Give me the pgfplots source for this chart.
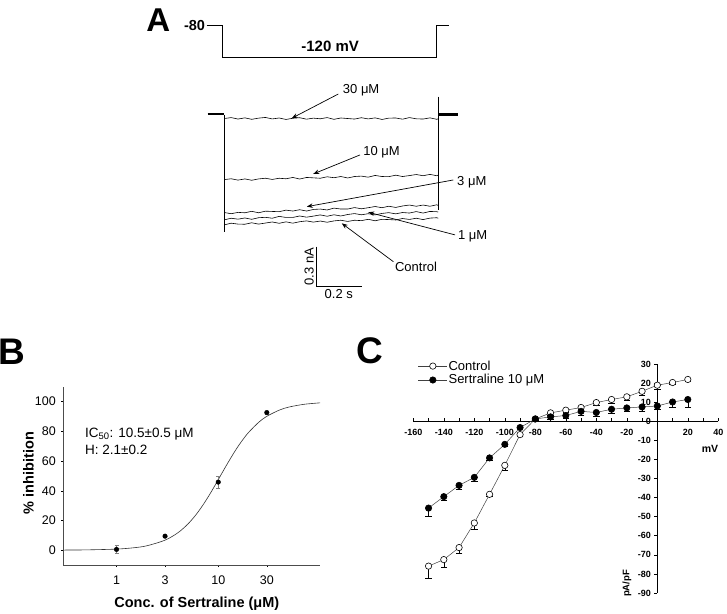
\documentclass[border=0pt]{standalone}
\usepackage{fontspec}
\setmainfont{Liberation Sans}
\usepackage{pgfplots}
\pgfplotsset{compat=1.18}
\usetikzlibrary{arrows.meta}

\begin{document}
\begin{tikzpicture}
\useasboundingbox (0,0) rectangle (727pt,613pt);

% panel letters
\node[font=\bfseries\fontsize{33}{36}\selectfont] at (158.3pt,593pt) {A};
\node[font=\bfseries\fontsize{37}{40}\selectfont] at (12.2pt,261.5pt) {B};
\node[font=\bfseries\fontsize{37}{40}\selectfont] at (370pt,262pt) {C};

% ---- A: voltage protocol
\begin{axis}[at={(201.45pt,539.5pt)}, anchor=south west, scale only axis,
  width=274.2pt, height=64.6pt, xmin=-0.1, xmax=1.1, ymin=-140, ymax=-60,
  hide axis, clip=false]
\addplot[black, line width=0.8pt] coordinates {
  (-0.077,-80) (-0.007,-80) (-0.007,-120) (0.928,-120) (0.928,-80) (0.985,-80)};
\node[anchor=east, inner sep=1.5pt, font=\bfseries\fontsize{14.5}{16}\selectfont] at (axis cs:-0.077,-80) {-80};
\node[font=\bfseries\fontsize{15}{17}\selectfont] at (axis cs:0.463,-106) {-120 mV};
\end{axis}

% ---- A: current traces (t in s, I in nA)
\begin{axis}[at={(201.45pt,312.1pt)}, anchor=south west, scale only axis,
  width=274.2pt, height=213.3pt, xmin=-0.1, xmax=1.1, ymin=-1.4, ymax=0.2,
  hide axis, clip=false]
\addplot[black, line width=2.2pt] coordinates {(-0.073,0) (0,0)};
\addplot[black, line width=2.2pt] coordinates {(0.938,-0.002) (1.024,-0.002)};
\addplot[black, line width=0.6pt] coordinates {(0,-0.005) (0,-0.881)};
\addplot[black, line width=0.6pt] coordinates {(0.9365,0.132) (0.9365,-0.72)};
% 30 uM
\addplot[black, line width=0.6pt] coordinates {
(0,-0.032) (0.03,-0.025) (0.06,-0.036) (0.09,-0.027) (0.12,-0.038) (0.15,-0.029)
(0.18,-0.024) (0.21,-0.035) (0.24,-0.028) (0.27,-0.039) (0.30,-0.030) (0.33,-0.026)
(0.36,-0.037) (0.39,-0.029) (0.42,-0.034) (0.45,-0.025) (0.48,-0.038) (0.51,-0.028)
(0.54,-0.032) (0.57,-0.036) (0.60,-0.026) (0.63,-0.035) (0.66,-0.027) (0.69,-0.039)
(0.72,-0.029) (0.75,-0.028) (0.78,-0.037) (0.81,-0.025) (0.84,-0.034) (0.87,-0.036)
(0.90,-0.027) (0.93,-0.038) (0.936,-0.034)};
% 10 uM
\addplot[black, line width=0.6pt] coordinates {
(0,-0.490) (0.03,-0.484) (0.06,-0.494) (0.09,-0.485) (0.12,-0.495) (0.15,-0.485)
(0.18,-0.480) (0.21,-0.489) (0.24,-0.480) (0.27,-0.484) (0.30,-0.474) (0.33,-0.486)
(0.36,-0.474) (0.39,-0.477) (0.42,-0.480) (0.45,-0.469) (0.48,-0.476) (0.51,-0.467)
(0.54,-0.478) (0.57,-0.467) (0.60,-0.464) (0.63,-0.472) (0.66,-0.459) (0.69,-0.467)
(0.72,-0.468) (0.75,-0.457) (0.78,-0.467) (0.81,-0.460) (0.84,-0.452) (0.87,-0.461)
(0.90,-0.451) (0.93,-0.461) (0.936,-0.456)};
% 3 uM
\addplot[black, line width=0.6pt] coordinates {
(0,-0.737) (0.03,-0.746) (0.06,-0.736) (0.09,-0.739) (0.12,-0.728) (0.15,-0.739)
(0.18,-0.727) (0.21,-0.729) (0.24,-0.731) (0.27,-0.719) (0.30,-0.726) (0.33,-0.716)
(0.36,-0.726) (0.39,-0.714) (0.42,-0.711) (0.45,-0.718) (0.48,-0.704) (0.51,-0.711)
(0.54,-0.711) (0.57,-0.700) (0.60,-0.709) (0.63,-0.701) (0.66,-0.692) (0.69,-0.701)
(0.72,-0.690) (0.75,-0.699) (0.78,-0.688) (0.81,-0.681) (0.84,-0.690) (0.87,-0.681)
(0.90,-0.690) (0.93,-0.679) (0.936,-0.684)};
% 1 uM
\addplot[black, line width=0.6pt] coordinates {
(0,-0.792) (0.03,-0.780) (0.06,-0.787) (0.09,-0.778) (0.12,-0.788) (0.15,-0.776)
(0.18,-0.773) (0.21,-0.780) (0.24,-0.766) (0.27,-0.774) (0.30,-0.774) (0.33,-0.763)
(0.36,-0.772) (0.39,-0.764) (0.42,-0.755) (0.45,-0.765) (0.48,-0.754) (0.51,-0.763)
(0.54,-0.752) (0.57,-0.745) (0.60,-0.754) (0.63,-0.746) (0.66,-0.755) (0.69,-0.744)
(0.72,-0.738) (0.75,-0.747) (0.78,-0.737) (0.81,-0.741) (0.84,-0.730) (0.87,-0.741)
(0.90,-0.729) (0.93,-0.731) (0.936,-0.734)};
% control
\addplot[black, line width=0.6pt] coordinates {
(0,-0.830) (0.03,-0.817) (0.06,-0.824) (0.09,-0.825) (0.12,-0.814) (0.15,-0.824)
(0.18,-0.816) (0.21,-0.808) (0.24,-0.818) (0.27,-0.807) (0.30,-0.817) (0.33,-0.806)
(0.36,-0.800) (0.39,-0.809) (0.42,-0.801) (0.45,-0.810) (0.48,-0.800) (0.51,-0.795)
(0.54,-0.804) (0.57,-0.795) (0.60,-0.798) (0.63,-0.788) (0.66,-0.799) (0.69,-0.788)
(0.72,-0.790) (0.75,-0.793) (0.78,-0.782) (0.81,-0.789) (0.84,-0.780) (0.87,-0.790)
(0.90,-0.779) (0.93,-0.776) (0.936,-0.780)};
% labels and arrows
\tikzset{lab/.style={font=\fontsize{13}{15}\selectfont, inner sep=1pt},
         arr/.style={line width=0.7pt, -{Stealth[length=6pt,width=4.5pt]}}}
\draw[arr] (axis cs:0.499,0.152) -- (axis cs:0.295,-0.030);
\node[lab, anchor=west] at (axis cs:0.514,0.177) {30 μM};
\draw[arr] (axis cs:0.594,-0.305) -- (axis cs:0.389,-0.448);
\node[lab, anchor=west] at (axis cs:0.603,-0.285) {10 μM};
\draw[arr] (axis cs:1.002,-0.493) -- (axis cs:0.361,-0.693);
\node[lab, anchor=west] at (axis cs:1.014,-0.506) {3 μM};
\draw[arr] (axis cs:1.010,-0.905) -- (axis cs:0.630,-0.735);
\node[lab, anchor=west] at (axis cs:1.018,-0.913) {1 μM};
\draw[arr] (axis cs:0.740,-1.106) -- (axis cs:0.514,-0.818);
\node[lab] at (axis cs:0.839,-1.146) {Control};
% scale bar
\draw[line width=0.7pt] (axis cs:0.401,-0.993) -- (axis cs:0.401,-1.293) -- (axis cs:0.601,-1.293);
\node[lab, rotate=90, anchor=south, inner sep=2pt] at (axis cs:0.401,-1.143) {0.3 nA};
\node[lab, anchor=north, inner sep=2.5pt] at (axis cs:0.501,-1.293) {0.2 s};
\end{axis}

% ---- B: concentration-response
\begin{axis}[at={(63.3pt,48pt)}, anchor=south west, scale only axis,
  width=256.7pt, height=178.3pt, xmode=log, xmin=0.3, xmax=100, ymin=-10, ymax=110,
  axis x line*=bottom, axis y line*=left,
  xtick={1,3,10,30}, xticklabels={1,3,10,30}, xminorticks=false,
  ytick={0,20,40,60,80,100}, yticklabels={0,20,40,60,80,100},
  tick align=outside, major tick length=2pt, tick style={black, thin},
  axis line style={black!70, line width=0.6pt},
  ticklabel style={font=\fontsize{12.5}{14}\selectfont},
  xticklabel style={yshift=-5pt}, yticklabel style={xshift=-2pt},
  xlabel={Conc. of Sertraline (μM)}, ylabel={\% inhibition},
  label style={font=\bfseries\fontsize{14.5}{16}\selectfont},
  xlabel style={at={(axis description cs:0.52,-0.215)}, anchor=center},
  ylabel style={at={(axis description cs:-0.136,0.516)}, anchor=center},
  clip=false]
\addplot[black!80, line width=0.6pt, smooth] coordinates {
(0.3,0.06) (0.5,0.17) (1,0.71) (1.5,1.65) (2,2.98) (3,6.72) (4,11.64) (5,17.39)
(6,23.59) (7,29.91) (8,36.09) (9,41.97) (10,47.44) (11,52.44) (12,56.96) (14,64.66)
(16,70.78) (18,75.62) (20,79.46) (25,86.08) (30,90.07) (40,94.31) (50,96.37)
(70,98.17) (100,99.13)};
\addplot[only marks, mark=*, mark size=2.3pt, black,
  error bars/.cd, y dir=both, y explicit,
  error bar style={gray, line width=0.5pt},
  error mark options={rotate=90, gray, mark size=2pt}] coordinates {
(1,0.5) +- (0,2.5)
(3,9.4) +- (0,0.8)
(10,45.8) +- (0,4)
(30,92.6) +- (0,1)};
\node[anchor=west, inner sep=0pt, font=\fontsize{13.5}{16}\selectfont] at (axis cs:0.49,78.2) {IC\textsubscript{50}: 10.5±0.5 μM};
\node[anchor=west, inner sep=0pt, font=\fontsize{13.5}{16}\selectfont] at (axis cs:0.49,67.6) {H: 2.1±0.2};
\end{axis}

% ---- C: I-V relationship
\begin{axis}[at={(413.3pt,20pt)}, anchor=south west, scale only axis,
  width=305pt, height=229pt, xmin=-160, xmax=40, ymin=-90, ymax=30,
  axis lines=middle, axis line style={-, line width=0.8pt},
  xtick={-160,-140,...,40},
  xticklabels={-160,-140,-120,-100,-80,-60,-40,-20,,20,40},
  minor x tick num=1,
  ytick={-90,-80,...,30},
  yticklabels={-90,-80,-70,-60,-50,-40,-30,-20,-10,0,10,20,30},
  hide obscured x ticks=false, hide obscured y ticks=false,
  xtick align=inside, ytick align=outside,
  major tick length=3pt, minor tick length=3pt, tick style={black, line width=0.6pt},
  ticklabel style={font=\bfseries\fontsize{9}{10}\selectfont},
  xticklabel style={yshift=-4pt},
  clip=false,
  legend style={draw=none, fill=none, at={(0.015,1.02)}, anchor=north west,
    inner sep=0pt, row sep=1pt, nodes={inner sep=1pt},
    font=\fontsize{13}{15}\selectfont},
  legend cell align=left,
  legend image code/.code={
    \draw[#1] (0pt,0pt) -- (29pt,0pt);
    \draw[#1, only marks] plot coordinates {(14.5pt,0pt)};}]
\addplot[black!75, line width=0.5pt, mark=*, mark size=3.2pt,
  mark options={fill=white, draw=black, line width=0.6pt},
  error bars/.cd, y dir=minus, y explicit,
  error bar style={black, line width=0.5pt},
  error mark options={rotate=90, black, mark size=3.3pt}] coordinates {
(-150,-75.9) -= (0,6.1)
(-140,-72.5) -= (0,4.2)
(-130,-66.2) -= (0,2.7)
(-120,-53.3) -= (0,3.5)
(-110,-38.3) -= (0,1)
(-100,-23.1) -= (0,2.6)
(-90,-7.0) -= (0,1)
(-80,1.2) -= (0,0.5)
(-70,4.4) -= (0,1)
(-60,5.8) -= (0,1)
(-50,7.2) -= (0,1.5)
(-40,9.8) -= (0,1.5)
(-30,11.4) -= (0,2)
(-20,12.8) -= (0,2)
(-10,15.7) -= (0,2)
(0,18.9) -= (0,2)
(10,20.3) -= (0,1)
(20,21.9) -= (0,1)};
\addlegendentry{Control}
\addplot[black!75, line width=0.5pt, mark=*, mark size=3.2pt,
  mark options={fill=black, draw=black, line width=0.6pt},
  error bars/.cd, y dir=minus, y explicit,
  error bar style={black, line width=0.5pt},
  error mark options={rotate=90, black, mark size=3.3pt}] coordinates {
(-150,-45.5) -= (0,4.3)
(-140,-39.5) -= (0,1.9)
(-130,-33.6) -= (0,2.1)
(-120,-29.4) -= (0,1.9)
(-110,-19.2) -= (0,1)
(-100,-12.1) -= (0,1)
(-90,-3.3) -= (0,0.5)
(-80,1.2) -= (0,0.5)
(-70,2.3) -= (0,1)
(-60,3.0) -= (0,1.5)
(-50,5.2) -= (0,2)
(-40,4.6) -= (0,2)
(-30,6.3) -= (0,2)
(-20,7.0) -= (0,1.5)
(-10,7.5) -= (0,2)
(0,8.0) -= (0,1.5)
(10,10.1) -= (0,2.5)
(20,11.4) -= (0,3.9)};
\addlegendentry{Sertraline 10 μM}
\node[font=\bfseries\fontsize{10.5}{12}\selectfont] at (axis cs:34.6,-14.3) {mV};
\node[font=\bfseries\fontsize{9.5}{11}\selectfont, rotate=90] at (axis cs:-20,-85) {pA/pF};
\end{axis}
\end{tikzpicture}
\end{document}
